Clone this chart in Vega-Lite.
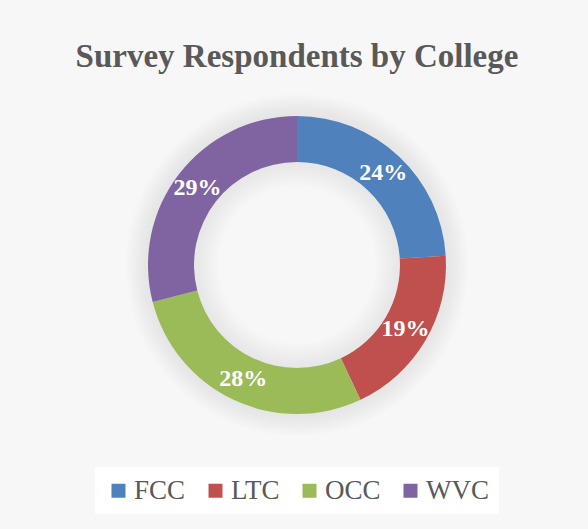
{
  "$schema": "https://vega.github.io/schema/vega-lite/v6.json",
  "width": 582,
  "height": 330,
  "autosize": {"type": "none"},
  "padding": {"left": 6, "top": 100, "right": 0, "bottom": 99},
  "background": "#f7f7f7",
  "title": {
    "text": "Survey Respondents by College",
    "font": "Liberation Serif",
    "fontSize": 33,
    "fontWeight": "bold",
    "color": "#595959",
    "anchor": "middle",
    "frame": "group",
    "offset": 19
  },
  "layer": [
    {
      "data": {"values": [{"shadow": 1}]},
      "mark": {
        "type": "arc",
        "outerRadius": 172,
        "innerRadius": 78,
        "fill": {
          "gradient": "radial",
          "x1": 0.5, "y1": 0.5, "r1": 0,
          "x2": 0.5, "y2": 0.5, "r2": 0.5,
          "stops": [
            {"offset": 0.45, "color": "rgba(0,0,0,0)"},
            {"offset": 0.6, "color": "rgba(0,0,0,0.07)"},
            {"offset": 0.88, "color": "rgba(0,0,0,0.07)"},
            {"offset": 1, "color": "rgba(0,0,0,0)"}
          ]
        }
      },
      "encoding": {}
    },
    {
      "data": {
        "values": [
          {"college": "FCC", "pct": 24, "order": 1},
          {"college": "LTC", "pct": 19, "order": 2},
          {"college": "OCC", "pct": 28, "order": 3},
          {"college": "WVC", "pct": 29, "order": 4}
        ]
      },
      "encoding": {
        "theta": {"field": "pct", "type": "quantitative", "stack": true},
        "order": {"field": "order", "type": "quantitative"}
      },
      "layer": [
        {
          "mark": {"type": "arc", "outerRadius": 149, "innerRadius": 103},
          "encoding": {
            "color": {
              "field": "college",
              "type": "nominal",
              "scale": {"domain": ["FCC", "LTC", "OCC", "WVC"], "range": ["#4F81BD", "#C0504D", "#9BBB59", "#8064A2"]},
              "legend": {
                "title": null,
                "orient": "none",
                "legendX": 89,
                "legendY": 367,
                "direction": "horizontal",
                "symbolType": "square",
                "symbolSize": 196,
                "symbolStrokeWidth": 0,
                "labelFont": "Liberation Serif",
                "labelFontSize": 27,
                "labelColor": "#595959",
                "labelOffset": 2,
                "columnPadding": 16,
                "fillColor": "white",
                "padding": 10
              }
            }
          }
        },
        {
          "mark": {"type": "text", "radius": 126, "font": "Liberation Serif", "fontWeight": "bold", "fontSize": 24, "color": "white"},
          "encoding": {
            "text": {"field": "label", "type": "nominal"}
          },
          "transform": [{"calculate": "datum.pct + '%'", "as": "label"}]
        }
      ]
    }
  ]
}
